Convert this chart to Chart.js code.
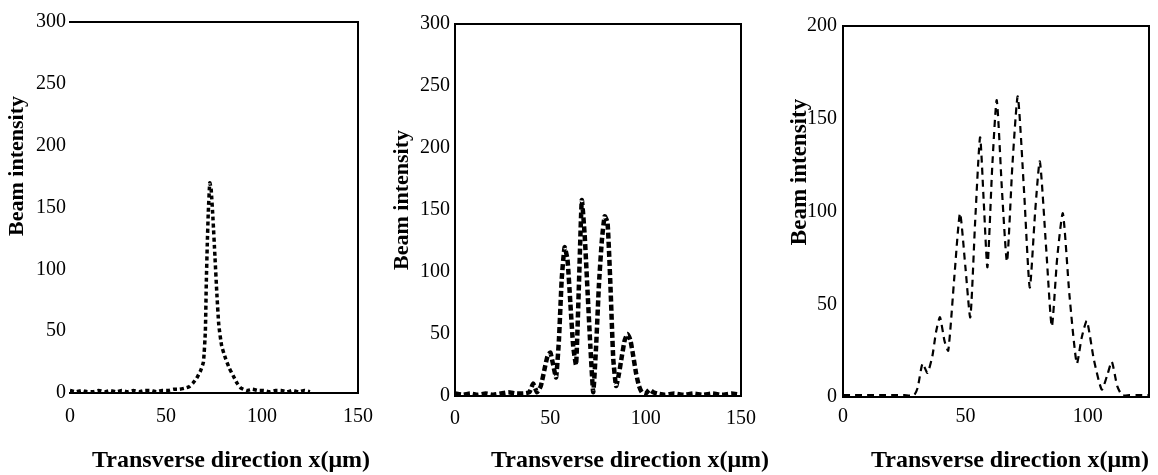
<!DOCTYPE html>
<html>
<head>
<meta charset="utf-8">
<script src="https://cdn.jsdelivr.net/npm/chart.js"></script>
<style>
html,body{margin:0;padding:0;background:#fff;overflow:hidden;width:1158px;height:475px;}
canvas{position:absolute;}
</style>
</head>
<body>
<canvas id="c1"></canvas>
<canvas id="c2"></canvas>
<canvas id="c3"></canvas>
<script>
// ---------- data ----------
const xTitle = 'Transverse direction x(μm)';
const yTitle = 'Beam intensity';

const xTicks1 = [0, 50, 100, 150];
const yTicks1 = [0, 50, 100, 150, 200, 250, 300];
const x1 = [0,3,6,9,12,15,18,21,24,27, 30,33,36,39,42,45,48,51,54,57, 60,62,64,66,68,69.5,70.5,71,71.5,72, 72.8,73.5,74.5,75.5,76.5,77.5,79,81,83,85, 87,89,92,95,98,101,104,107,110,113, 116,119,122,125];
const y1 = [2,1,2,1,1,2,1,2,1,2, 1,2,1,2,2,1,2,2,3,3, 4,5,8,12,18,25,50,90,120,145, 170,165,140,110,80,55,38,28,20,14, 8,4,2,3,2,2,1,2,2,1, 2,1,2,1];

const xTicks2 = [0, 50, 100, 150];
const yTicks2 = [0, 50, 100, 150, 200, 250, 300];
const x2 = [0,4,8,12,16,20,24,28,32,36, 39,41,43,45,47,48.5,50,51.5,53,54.5, 56,57.5,59,60.5,62,63.5,65,66.5,68,69.5, 71,72.5,74,75.5,77,78.5,80,81.5,83,84.5, 86,87.5,89,90.5,92,93.5,95,96.5,98,100, 102,104,106,110,115,120,125,130,135,140, 145,150];
const y2 = [2,1,2,1,2,1,2,3,2,2, 3,10,3,8,22,32,35,25,15,45, 95,120,110,75,40,25,90,158,130,85, 40,3,40,90,125,145,140,90,30,8, 18,32,45,50,45,32,18,8,3,2, 5,3,2,1,2,1,2,1,2,1, 2,1];

const xTicks3 = [0, 50, 100];
const yTicks3 = [0, 50, 100, 150, 200];
const x3 = [0,5,10,15,20,25,29,30.5,32.5,34.5, 36.5,38,39.6,41.5,43,45.5,47.8,50,52,54, 56,57.5,59,61,62.8,65,67,69.2,71.4,74, 76.3,78.5,80.4,83,85.3,87.5,89.8,92.5,95.5,97.5, 99.6,102.5,105.7,108,109.8,112,114,117,120,125];
const y3 = [1,1,1,1,1,1,1,5,18,13, 22,35,43,30,25,65,99,70,43,95, 140,105,70,125,160,110,73,125,162,110, 59,100,127,80,38,75,99,55,18,32, 41,20,4,12,19,6,1,1,1,1];

// ---------- layout / style ----------
const FONT = '"Liberation Serif", "Times New Roman", serif';

function geom(g) {
  const subLH = g.yTitleSize * g.yLH;
  const titLH = g.xTitleSize * 1.2;
  const cx = Math.floor(g.yTitleX - subLH / 2 - 20);
  const pl = g.yTitleX - subLH / 2 - cx;
  const titleRightPage = 2 * g.xTitleX - (cx + pl);
  const W = Math.ceil(titleRightPage - cx);
  const pr = (cx + W) - titleRightPage;
  const Rbox = titleRightPage - g.R;
  const yW = g.L - (cx + pl + subLH);
  const bottomPage = g.xTitleY + titLH / 2;
  const topPage = 2 * g.yTitleY - bottomPage;
  const cy = Math.floor(topPage);
  const pt = topPage - cy;
  const H = Math.ceil(bottomPage - cy);
  const pb = (cy + H) - bottomPage;
  const Tp = g.T - topPage;
  const xH = (bottomPage - titLH) - g.B;
  return {cx, cy, W, H, pl, pr, pt, pb, Rbox, yW, Tp, xH};
}

function keepTicks(list) {
  return s => { s.ticks = s.ticks.filter(t => list.includes(t.value)); };
}

function makePanel(id, g, xs, ys, xTicks, yTicks, line) {
  const m = geom(g);
  const cv = document.getElementById(id);
  cv.width = m.W; cv.height = m.H;
  cv.style.left = m.cx + 'px'; cv.style.top = m.cy + 'px';
  cv.style.width = m.W + 'px'; cv.style.height = m.H + 'px';
  const xMax = g.xMax;
  const yMax = yTicks[yTicks.length - 1];
  const frame = {display: true, color: '#000', width: 2};
  new Chart(cv, {
    type: 'line',
    data: {
      datasets: [{
        data: xs.map((x, i) => ({x: x, y: ys[i]})),
        borderColor: '#000',
        borderWidth: line.w,
        borderDash: line.dash,
        pointRadius: 0,
        tension: line.t,
        fill: false
      }]
    },
    options: {
      responsive: false,
      animation: false,
      devicePixelRatio: 1,
      layout: {padding: {left: m.pl, right: m.pr, top: m.pt, bottom: m.pb}},
      plugins: {
        legend: {display: false},
        tooltip: {enabled: false},
        title: {display: true, text: xTitle, position: 'bottom', color: '#000',
                font: {family: FONT, size: g.xTitleSize, weight: 'bold', lineHeight: 1.2}, padding: 0},
        subtitle: {display: true, text: yTitle, position: 'left', color: '#000',
                font: {family: FONT, size: g.yTitleSize, weight: 'bold', lineHeight: g.yLH}, padding: 0}
      },
      scales: {
        x: {
          type: 'linear', position: 'bottom', min: 0, max: xMax,
          ticks: {stepSize: 50, color: '#000', font: {family: FONT, size: 20}, padding: g.xPad, maxRotation: 0, autoSkip: false},
          afterBuildTicks: keepTicks(xTicks),
          grid: {display: false, drawTicks: false},
          border: frame,
          afterFit: s => { s.height = m.xH; }
        },
        y: {
          type: 'linear', position: 'left', min: 0, max: yMax,
          ticks: {stepSize: 50, color: '#000', font: {family: FONT, size: 20}, padding: g.yPad},
          afterBuildTicks: keepTicks(yTicks),
          grid: {display: false, drawTicks: false},
          border: {display: g.leftBorder, color: '#000', width: 2, dash: g.leftDash},
          afterFit: s => { s.width = m.yW; }
        },
        x2: {
          axis: 'x', type: 'linear', position: 'top', min: 0, max: xMax,
          ticks: {display: false}, grid: {display: false, drawTicks: false},
          border: frame,
          afterFit: s => { s.height = m.Tp; }
        },
        y2: {
          axis: 'y', type: 'linear', position: 'right', min: 0, max: yMax,
          ticks: {display: false}, grid: {display: false, drawTicks: false},
          border: frame,
          afterFit: s => { s.width = m.Rbox; }
        }
      }
    }
  });
}

makePanel('c1',
  {L: 70, R: 358, T: 22, B: 393, xMax: 150, xTitleX: 231, xTitleY: 461, yTitleX: 17, yTitleY: 166,
   xTitleSize: 24, yTitleSize: 22, yLH: 1.2, xPad: 12, yPad: 4, leftBorder: false, leftDash: []},
  x1, y1, xTicks1, yTicks1, {w: 3.5, dash: [4, 3], t: 0.15});

makePanel('c2',
  {L: 455, R: 741, T: 24, B: 396, xMax: 150, xTitleX: 630, xTitleY: 461, yTitleX: 402, yTitleY: 200,
   xTitleSize: 24, yTitleSize: 22, yLH: 1.2, xPad: 11, yPad: 5, leftBorder: true, leftDash: [9, 3]},
  x2, y2, xTicks2, yTicks2, {w: 4.5, dash: [6, 3], t: 0.15});

makePanel('c3',
  {L: 843, R: 1149, T: 26, B: 397, xMax: 125, xTitleX: 1010, xTitleY: 461, yTitleX: 800, yTitleY: 172,
   xTitleSize: 24, yTitleSize: 23, yLH: 0.4, xPad: 8, yPad: 6, leftBorder: true, leftDash: []},
  x3, y3, xTicks3, yTicks3, {w: 2.2, dash: [7, 5], t: 0.2});
</script>
</body>
</html>
